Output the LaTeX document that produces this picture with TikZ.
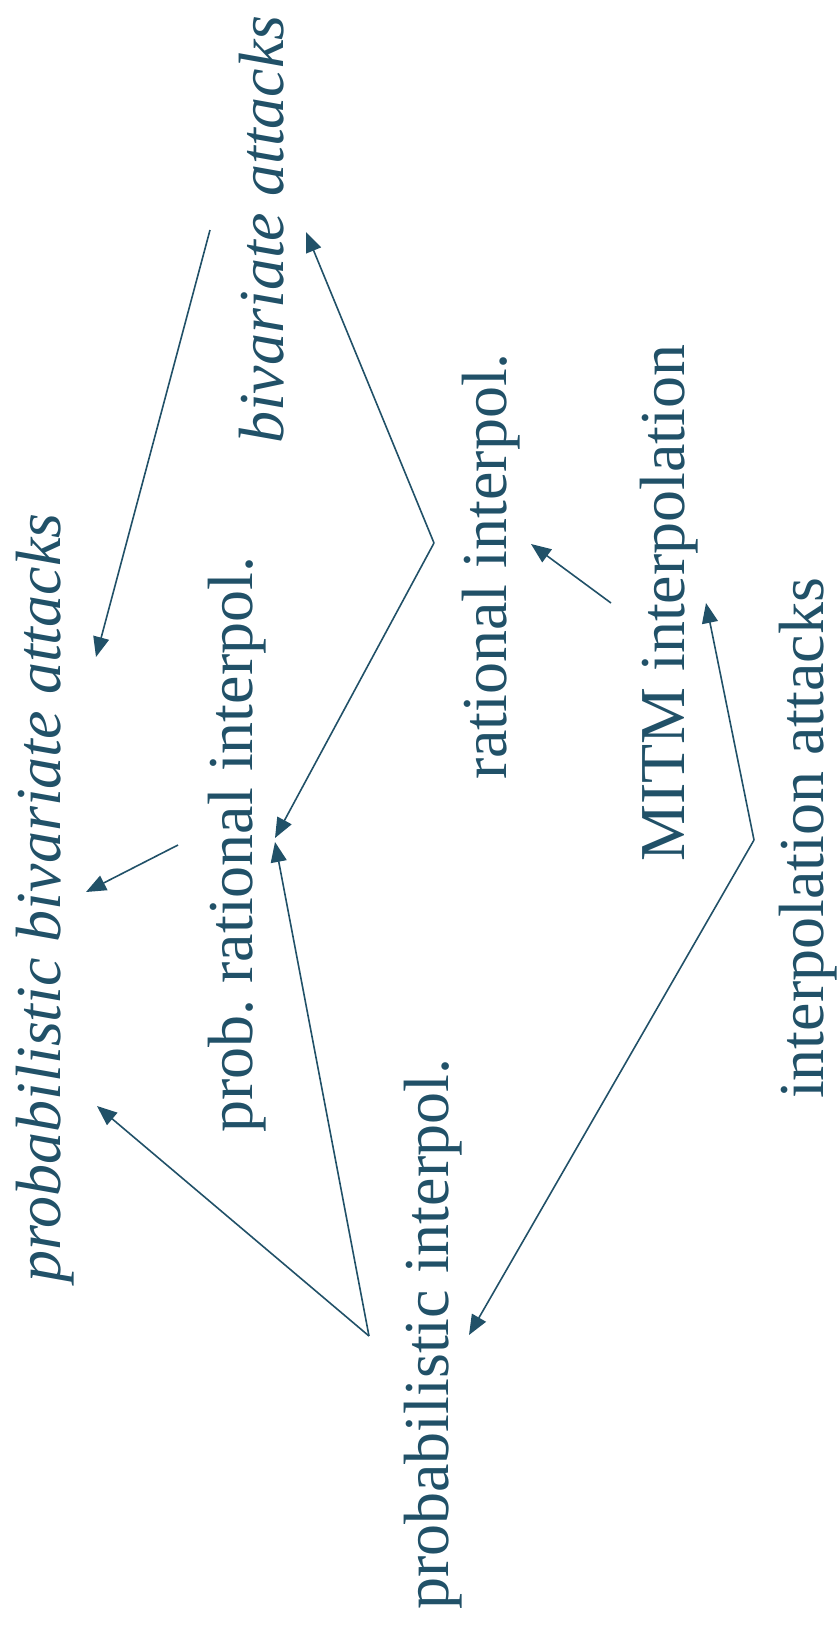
\documentclass[tikz,border=0pt]{standalone}
\usepackage{fontspec}
\setmainfont{Liberation Serif}
\usetikzlibrary{arrows.meta}
\definecolor{ink}{RGB}{33,81,104}
\begin{document}
\begin{tikzpicture}[x=1pt,y=-1pt,
  lbl/.style={inner sep=0pt, rotate=90, anchor=base west, text=ink,
    font=\fontsize{64}{70}\selectfont},
  ilbl/.style={lbl, font=\fontsize{64}{70}\selectfont\itshape},
  link/.style={draw=ink, line width=1.6pt, -{Triangle[length=20pt,width=16pt]}}]
\useasboundingbox (0,0) rectangle (838,1627);

% labels, set bottom to top
\node[ilbl] (biv)  at (283,444)  {bivariate attacks};
\node[ilbl] (pbiv) at (60,1283)  {probabilistic bivariate attacks};
\node[lbl]  (prat) at (252,1133) {prob.\ rational interpol.};
\node[lbl]  (rat)  at (506,780)  {rational interpol.};
\node[lbl]  (mitm) at (684,862)  {MITM interpolation};
\node[lbl]  (iatt) at (823,1099) {interpolation attacks};
\node[lbl]  (pint) at (448,1610) {probabilistic interpol.};

% connector end points
\coordinate (bivout)  at (210,230);
\coordinate (pbivinA) at (96,657);
\coordinate (pbivinB) at (86,892);
\coordinate (pbivinC) at (97,1106);
\coordinate (ratout)  at (434,543);
\coordinate (bivin)   at (306,232);
\coordinate (pratinA) at (275,838);
\coordinate (pratinB) at (275,842);
\coordinate (pratout) at (178,845);
\coordinate (mitmout) at (611,603);
\coordinate (ratin)   at (531,544);
\coordinate (pintout) at (369,1336);
\coordinate (iattout) at (754,840);
\coordinate (mitmin)  at (706,603);
\coordinate (pintin)  at (469,1335);

\draw[link] (bivout)  -- (pbivinA);
\draw[link] (ratout)  -- (bivin);
\draw[link] (ratout)  -- (pratinA);
\draw[link] (mitmout) -- (ratin);
\draw[link] (pratout) -- (pbivinB);
\draw[link] (pintout) -- (pbivinC);
\draw[link] (pintout) -- (pratinB);
\draw[link] (iattout) -- (mitmin);
\draw[link] (iattout) -- (pintin);
\end{tikzpicture}
\end{document}
